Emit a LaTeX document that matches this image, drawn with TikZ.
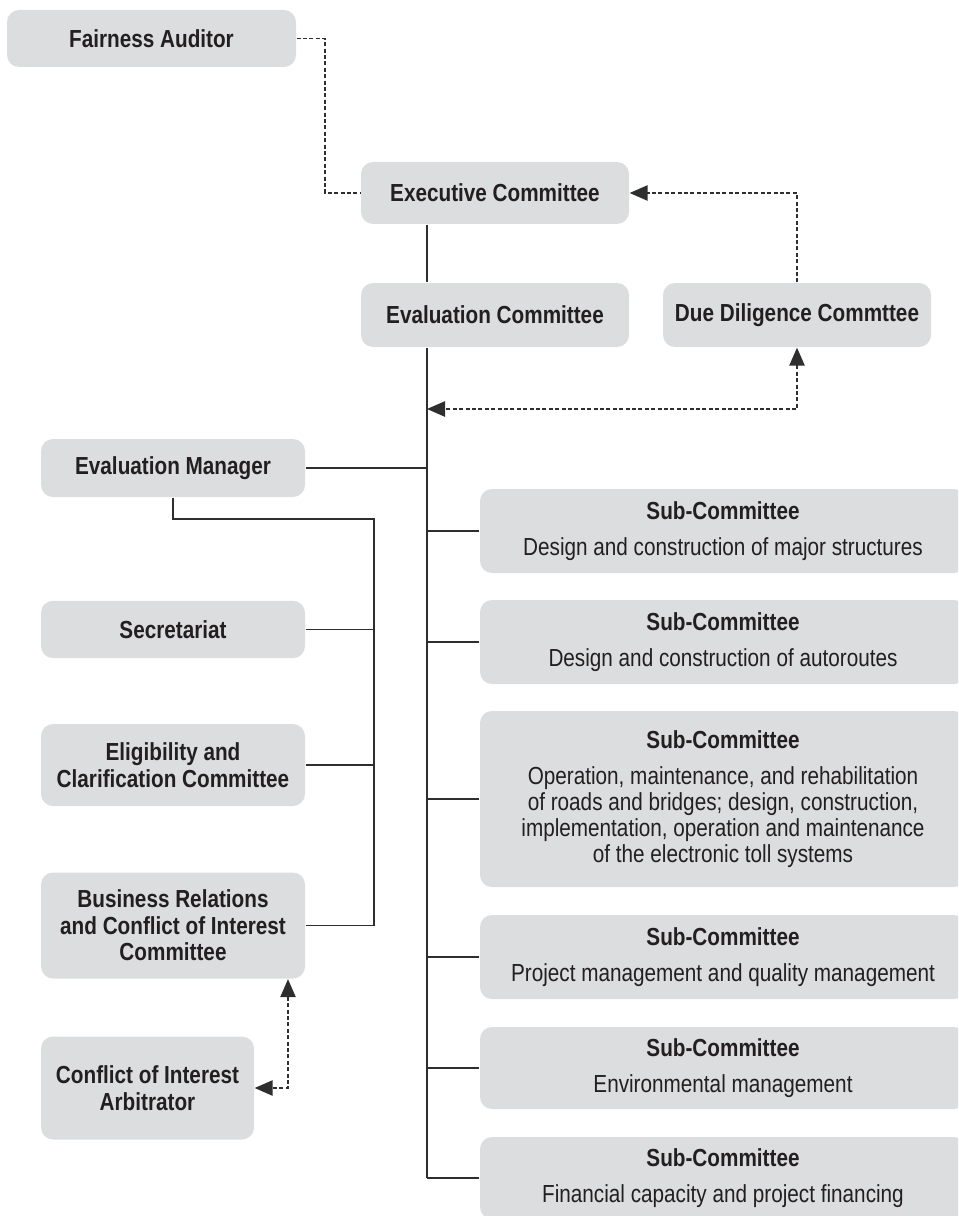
\documentclass[tikz,border=0pt]{standalone}
\usepackage{fontspec}
\setmainfont{Liberation Sans}[FakeStretch=0.84]
\usetikzlibrary{arrows.meta}
\definecolor{boxgray}{HTML}{DCDDDE}
\definecolor{inkgray}{HTML}{231F20}
\definecolor{linegray}{HTML}{2E2E2E}

\begin{document}
\begin{tikzpicture}[x=0.75pt,y=-0.75pt,line width=1pt,color=linegray,>={Triangle[length=13.5pt,width=11.5pt]},
	unit/.style={rectangle,rounded corners=9pt,fill=boxgray,text=inkgray,inner sep=0pt,align=center,font=\fontsize{18.5}{20}\selectfont\bfseries},
	subunit/.style={unit,minimum width=364.5pt,font=\fontsize{18.5}{19.5}\selectfont},
	link/.style={line width=1.1pt,dash pattern=on 3pt off 1.8pt}]
	
	\useasboundingbox (0,0) rectangle (958,1216);
	\clip (0,0) rectangle (958,1216);
	
	\node at (151.5,38.5) [unit,minimum width=216.75pt,minimum height=42.75pt] (fa) {Fairness Auditor};
	\node at (495,193) [unit,minimum width=201pt,minimum height=46.5pt] (ec) {Executive Committee};
	\node at (495,315) [unit,minimum width=201pt,minimum height=48pt] (ev) {Evaluation Committee};
	\node at (797,315) [unit,minimum width=201pt,minimum height=48pt] (dd) {Due Diligence Commttee};
	
	\node at (173,468) [unit,minimum width=198pt,minimum height=43.5pt] (em) {Evaluation Manager};
	\node at (173,629.5) [unit,minimum width=198pt,minimum height=43pt] (sec) {Secretariat};
	\node at (173,765) [unit,minimum width=198pt,minimum height=61.5pt] (ecc) {Eligibility and\\Clarification Committee};
	\node at (173,925.5) [unit,minimum width=198pt,minimum height=79.5pt] (br) {Business Relations\\and Conflict of Interest\\Committee};
	\node at (147.5,1088) [unit,minimum width=159.75pt,minimum height=77.25pt] (arb) {Conflict of Interest\\Arbitrator};
	
	\node at (723,531) [subunit,minimum height=63pt] (s1) {\textbf{Sub-Committee}\\[7pt]Design and construction of major structures};
	\node at (723,642) [subunit,minimum height=63pt] (s2) {\textbf{Sub-Committee}\\[7pt]Design and construction of autoroutes};
	\node at (723,799) [subunit,minimum height=132pt] (s3) {\textbf{Sub-Committee}\\[7pt]Operation, maintenance, and rehabilitation\\of roads and bridges; design, construction,\\implementation, operation and maintenance\\of the electronic toll systems};
	\node at (723,957) [subunit,minimum height=63pt] (s4) {\textbf{Sub-Committee}\\[7pt]Project management and quality management};
	\node at (723,1068) [subunit,minimum height=61.5pt] (s5) {\textbf{Sub-Committee}\\[7pt]Environmental management};
	\node at (723,1178) [subunit,minimum height=61.5pt] (s6) {\textbf{Sub-Committee}\\[7pt]Financial capacity and project financing};
	
	\coordinate (sp) at (427,1178);
	\coordinate (lsp) at (374,519);
	\coordinate (db) at (427,409);
	\coordinate (fk) at (325,100);
	\coordinate (ak) at (288,1000);
	
	\path
	(ec.south -| sp) edge (ev.north -| sp)
	(ev.south -| sp) edge (sp)
	(em.east) edge (em.east -| sp)
	;
	
	\foreach \i in {1,...,6}{
		\path (s\i.west) edge (s\i.west -| sp);
	};
	
	\draw (em.south) |- (lsp) |- (br.east);
	\foreach \n in {sec,ecc}{
		\path (\n.east) edge (\n.east -| lsp);
	};
	
	\draw[link] (fa.east) -| (fk) |- (ec.west);
	\draw[link,->] (dd.north) |- (ec.east);
	\draw[link,<->] (dd.south) |- (db);
	\draw[link,<->] (br.south -| ak) |- (arb.east);
	
\end{tikzpicture}
\end{document}
